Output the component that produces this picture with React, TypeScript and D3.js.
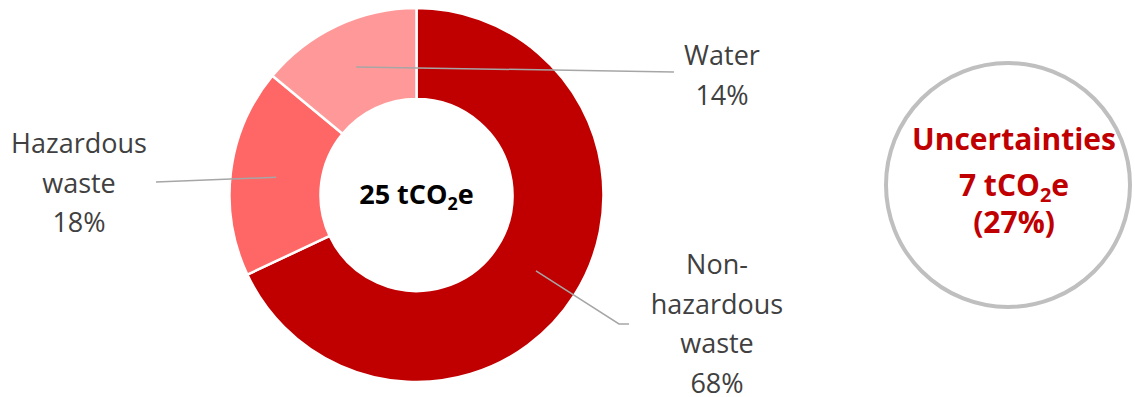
import React from "react";
import * as d3 from "d3";

const categories = ["Non-hazardous waste", "Hazardous waste", "Water"];
const shares = [68, 18, 14];
const sliceColors = ["#C00000", "#FF6666", "#FF9999"];
const labelLines = [
  ["Non-", "hazardous", "waste", "68%"],
  ["Hazardous", "waste", "18%"],
  ["Water", "14%"],
];
const totalValue = "25";
const uncertaintyValue = "7";
const uncertaintyShare = "(27%)";

const W = 1135;
const H = 397;
const cx = 416.5;
const cy = 195;
const rOuter = 187;
const rInner = 96;

// label layout: anchor x, first baseline, leader end points
const labelLayout = [
  { x: 717, y: 274, line: [[619, 324], [629, 324]] },
  { x: 79, y: 153, line: [[156, 182]] },
  { x: 722, y: 65, line: [[674, 72]] },
];

export default function App() {
  const pie = d3.pie<number>().sort(null).value((d) => d);
  const arcs = pie(shares);
  const arc = d3.arc<d3.PieArcDatum<number>>().innerRadius(rInner).outerRadius(rOuter);
  const labelFont = "'Open Sans', sans-serif";
  return (
    <svg width={W} height={H} style={{ position: "absolute", left: 0, top: 0, background: "#fff" }}>
      <g transform={`translate(${cx},${cy})`}>
        {arcs.map((a, i) => (
          <path key={categories[i]} d={arc(a) || ""} fill={sliceColors[i]} stroke="#fff" strokeWidth={2.5} />
        ))}
      </g>
      {arcs.map((a, i) => {
        const c = arc.centroid(a);
        const pts = [[cx + c[0], cy + c[1]], ...labelLayout[i].line];
        const line = d3.line()(pts as [number, number][]);
        return <path key={"l" + i} d={line || ""} fill="none" stroke="#A6A6A6" strokeWidth={1.5} />;
      })}
      {labelLines.map((lines, i) => (
        <text key={"t" + i} x={labelLayout[i].x} y={labelLayout[i].y} textAnchor="middle" fontFamily={labelFont} fontSize={27} fill="#404040">
          {lines.map((ln, j) => (
            <tspan key={j} x={labelLayout[i].x} dy={j === 0 ? 0 : 39.5}>{ln}</tspan>
          ))}
        </text>
      ))}
      <text x={cx} y={204} textAnchor="middle" fontFamily={labelFont} fontWeight={700} fontSize={27} fill="#000">
        {totalValue} tCO<tspan fontSize={18} dy={6}>2</tspan><tspan dy={-6}>e</tspan>
      </text>
      <circle cx={1008} cy={185} r={122} fill="#fff" stroke="#BFBFBF" strokeWidth={4} />
      <g fontFamily={labelFont} fontWeight={700} fontSize={30} fill="#C00000" textAnchor="middle">
        <text x={1014} y={150}>Uncertainties</text>
        <text x={1014} y={196}>{uncertaintyValue} tCO<tspan fontSize={20} dy={6}>2</tspan><tspan dy={-6}>e</tspan></text>
        <text x={1014} y={233}>{uncertaintyShare}</text>
      </g>
    </svg>
  );
}
